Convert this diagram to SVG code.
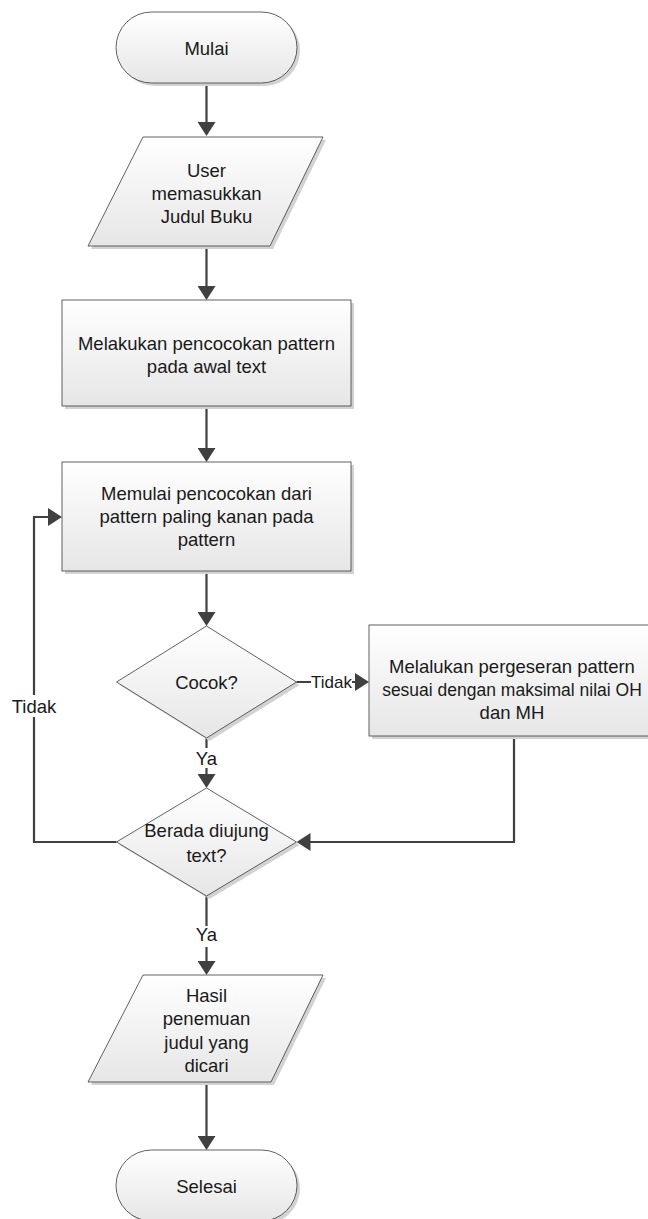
<svg xmlns="http://www.w3.org/2000/svg" width="648" height="1219" viewBox="0 0 648 1219">
<defs>
<linearGradient id="fill" x1="0" y1="0" x2="0" y2="1">
<stop offset="0" stop-color="#ffffff"/>
<stop offset="1" stop-color="#e6e6e6"/>
</linearGradient>
<marker id="arr" viewBox="0 0 14 18" refX="9" refY="9" markerWidth="14" markerHeight="18" markerUnits="userSpaceOnUse" orient="auto">
<path d="M0,0 L14,9 L0,18 z" fill="#404040"/>
</marker>
<style>
.shape{fill:url(#fill);stroke:#3a3a3a;stroke-width:0.8}
.shadow{fill:#d2d2d2;stroke:none}
.t{font-family:"Liberation Sans",Arial,sans-serif;font-size:18.5px;fill:#1a1a1a;text-anchor:middle}
.lbl{font-family:"Liberation Sans",Arial,sans-serif;font-size:17px;fill:#1a1a1a;text-anchor:middle}
.c{fill:none;stroke:#404040;stroke-width:2.2}
.ca{fill:none;stroke:#404040;stroke-width:2.2;marker-end:url(#arr)}
</style>
</defs>
<rect width="648" height="1219" fill="#ffffff"/>

<g id="connectors">
<path class="ca" d="M206.5,83 V131"/>
<path class="ca" d="M206.5,246 V295"/>
<path class="ca" d="M206.5,406 V457"/>
<path class="ca" d="M206.5,571 V621"/>
<path class="ca" d="M296.5,682 H364"/>
<path class="ca" d="M206.5,738 V783"/>
<path class="ca" d="M514,736 V842 H301.5"/>
<path class="ca" d="M116.5,842 H34 V517 H57"/>
<path class="ca" d="M206.5,896 V970"/>
<path class="ca" d="M206.5,1082 V1145"/>
<rect x="311" y="672" width="41" height="20" fill="#ffffff"/>
<text class="lbl" x="331.5" y="688">Tidak</text>
<rect x="190" y="748" width="33" height="20" fill="#ffffff"/>
<text class="t" x="206.5" y="765">Ya</text>
<rect x="10" y="695" width="48" height="22" fill="#ffffff"/>
<text class="t" x="34" y="713">Tidak</text>
<rect x="190" y="926" width="33" height="21" fill="#ffffff"/>
<text class="t" x="206.5" y="941">Ya</text>
</g>

<g id="mulai">
<rect class="shadow" x="119" y="15" width="181" height="71" rx="35.5"/>
<rect class="shape" x="116" y="12" width="181" height="71" rx="35.5"/>
<text class="t" x="206.5" y="55">Mulai</text>
</g>

<g id="input">
<polygon class="shadow" points="146,140 326,140 273,249 91,249"/>
<polygon class="shape" points="143,137 323,137 270,246 88,246"/>
<text class="t" x="206.5" y="177">User</text>
<text class="t" x="206.5" y="200">memasukkan</text>
<text class="t" x="206.5" y="223">Judul Buku</text>
</g>

<g id="proses1">
<rect class="shadow" x="65" y="303" width="289" height="106"/>
<rect class="shape" x="62" y="300" width="289" height="106"/>
<text class="t" x="206.5" y="350">Melakukan pencocokan pattern</text>
<text class="t" x="206.5" y="373">pada awal text</text>
</g>

<g id="proses2">
<rect class="shadow" x="65" y="465" width="289" height="109"/>
<rect class="shape" x="62" y="462" width="289" height="109"/>
<text class="t" x="206.5" y="500">Memulai pencocokan dari</text>
<text class="t" x="206.5" y="523">pattern paling kanan pada</text>
<text class="t" x="206.5" y="546">pattern</text>
</g>

<g id="cocok">
<polygon class="shadow" points="209.5,629 299.5,685 209.5,741 119.5,685"/>
<polygon class="shape" points="206.5,626 296.5,682 206.5,738 116.5,682"/>
<text class="t" x="206.5" y="689">Cocok?</text>
</g>

<g id="geser">
<rect class="shadow" x="372" y="628" width="290" height="111"/>
<rect class="shape" x="369" y="625" width="290" height="111"/>
<text class="t" x="512" y="673">Melalukan pergeseran pattern</text>
<text class="t" x="512" y="696" style="font-size:17.5px">sesuai dengan maksimal nilai OH</text>
<text class="t" x="512" y="719">dan MH</text>
</g>

<g id="ujung">
<polygon class="shadow" points="209.5,791 299.5,845 209.5,899 119.5,845"/>
<polygon class="shape" points="206.5,788 296.5,842 206.5,896 116.5,842"/>
<text class="t" x="206.5" y="837">Berada diujung</text>
<text class="t" x="206.5" y="862">text?</text>
</g>

<g id="output">
<polygon class="shadow" points="146,978 326,978 274,1085 91,1085"/>
<polygon class="shape" points="143,975 323,975 271,1082 88,1082"/>
<text class="t" x="206.5" y="1002">Hasil</text>
<text class="t" x="206.5" y="1025">penemuan</text>
<text class="t" x="206.5" y="1049">judul yang</text>
<text class="t" x="206.5" y="1072">dicari</text>
</g>

<g id="selesai">
<rect class="shadow" x="119" y="1153" width="181" height="71" rx="35.5"/>
<rect class="shape" x="116" y="1150" width="181" height="71" rx="35.5"/>
<text class="t" x="206.5" y="1193">Selesai</text>
</g>
</svg>
